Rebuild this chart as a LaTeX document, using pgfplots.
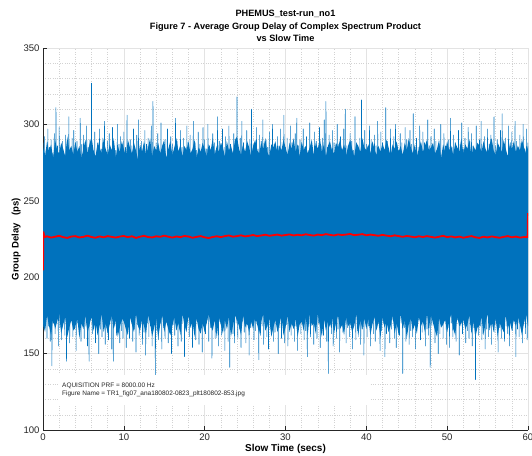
\documentclass[border=0pt]{standalone}
\usepackage{pgfplots}
\pgfplotsset{compat=1.18}
\usepgfplotslibrary{fillbetween}
\usepackage{fontspec}
\setmainfont{Liberation Sans}

\definecolor{mblue}{RGB}{0,114,189}
\definecolor{axgray}{RGB}{38,38,38}

\begin{document}
\begin{tikzpicture}
\begin{axis}[
    scale only axis,
    width=485bp, height=382bp,
    xmin=0, xmax=60, ymin=100, ymax=350,
    xtick={0,10,...,60}, ytick={100,150,...,350},
    minor x tick num=4, minor y tick num=4,
    minor tick length=0pt, major tick length=4bp,
    tick align=inside,
    axis x line*=bottom, axis y line*=left,
    axis line style={axgray, line width=0.5pt},
    tick style={axgray, line width=0.5pt},
    grid=both,
    major grid style={solid, gray!22, line width=0.5pt},
    minor grid style={dotted, gray!35, line width=0.4pt},
    /pgf/number format/assume math mode=true,
    ticklabel style={font=\fontsize{9.6}{10}\selectfont, text=axgray},
    title={PHEMUS\_test-run\_no1\\Figure 7 - Average Group Delay of Complex Spectrum Product\\vs Slow Time},
    title style={font=\bfseries\fontsize{9.2}{12.3}\selectfont, align=center, yshift=-3bp},
    xlabel={Slow Time (secs)},
    xlabel style={font=\bfseries\fontsize{10}{12}\selectfont, yshift=3bp},
    ylabel={Group Delay \ \ (ps)},
    ylabel style={font=\bfseries\fontsize{9.6}{12}\selectfont, yshift=-4bp},
]
% upper edge of the dense part of the signal
\addplot[draw=none, name path=up, forget plot] coordinates {
(0,285)(0.25,279)(0.5,289)(0.75,282)(1,287)(1.25,278)(1.5,290)(1.75,283)
(2,281)(2.25,288)(2.5,284)(2.75,279)(3,292)(3.25,283)(3.5,286)(3.75,280)
(4,289)(4.25,282)(4.5,286)(4.75,278)(5,284)(5.25,290)(5.5,281)(5.75,287)
(6,292)(6.25,283)(6.5,279)(6.75,288)(7,285)(7.25,281)(7.5,290)(7.75,284)
(8,280)(8.25,287)(8.5,283)(8.75,291)(9,278)(9.25,286)(9.5,282)(9.75,289)
(10,284)(10.25,279)(10.5,290)(10.75,285)(11,281)(11.25,288)(11.5,283)(11.75,277)
(12,287)(12.25,282)(12.5,289)(12.75,280)(13,285)(13.25,291)(13.5,279)(13.75,286)
(14,283)(14.25,288)(14.5,281)(14.75,286)(15,290)(15.25,278)(15.5,284)(15.75,289)
(16,280)(16.25,285)(16.5,291)(16.75,282)(17,287)(17.25,279)(17.5,286)(17.75,283)
(18,289)(18.25,281)(18.5,284)(18.75,290)(19,278)(19.25,285)(19.5,282)(19.75,288)
(20,284)(20.25,279)(20.5,287)(20.75,283)(21,291)(21.25,280)(21.5,286)(21.75,282)
(22,288)(22.25,285)(22.5,279)(22.75,289)(23,283)(23.25,286)(23.5,281)(23.75,290)
(24,292)(24.25,284)(24.5,280)(24.75,287)(25,282)(25.25,289)(25.5,285)(25.75,279)
(26,286)(26.25,290)(26.5,283)(26.75,281)(27,288)(27.25,284)(27.5,291)(27.75,282)
(28,279)(28.25,287)(28.5,285)(28.75,289)(29,281)(29.25,286)(29.5,283)(29.75,290)
(30,285)(30.25,280)(30.5,288)(30.75,284)(31,291)(31.25,282)(31.5,287)(31.75,279)
(32,289)(32.25,283)(32.5,286)(32.75,281)(33,285)(33.25,290)(33.5,280)(33.75,288)
(34,284)(34.25,291)(34.5,282)(34.75,287)(35,279)(35.25,286)(35.5,289)(35.75,283)
(36,281)(36.25,288)(36.5,285)(36.75,290)(37,283)(37.25,287)(37.5,280)(37.75,286)
(38,290)(38.25,284)(38.5,279)(38.75,288)(39,286)(39.25,282)(39.5,291)(39.75,285)
(40,283)(40.25,287)(40.5,281)(40.75,289)(41,284)(41.25,280)(41.5,286)(41.75,282)
(42,288)(42.25,283)(42.5,290)(42.75,285)(43,279)(43.25,287)(43.5,284)(43.75,289)
(44,282)(44.25,286)(44.5,280)(44.75,288)(45,283)(45.25,291)(45.5,285)(45.75,281)
(46,287)(46.25,279)(46.5,284)(46.75,289)(47,282)(47.25,286)(47.5,290)(47.75,283)
(48,285)(48.25,288)(48.5,281)(48.75,284)(49,290)(49.25,278)(49.5,287)(49.75,282)
(50,289)(50.25,283)(50.5,286)(50.75,280)(51,288)(51.25,285)(51.5,282)(51.75,291)
(52,281)(52.25,287)(52.5,284)(52.75,290)(53,279)(53.25,286)(53.5,283)(53.75,288)
(54,286)(54.25,282)(54.5,289)(54.75,284)(55,281)(55.25,287)(55.5,291)(55.75,283)
(56,280)(56.25,288)(56.5,285)(56.75,282)(57,290)(57.25,284)(57.5,279)(57.75,287)
(58,284)(58.25,289)(58.5,282)(58.75,286)(59,283)(59.25,290)(59.5,285)(59.75,281)
(60,286)
};
% lower edge of the dense part of the signal
\addplot[draw=none, name path=lo, forget plot] coordinates {
(0,170)(0.25,164)(0.5,175)(0.75,168)(1,162)(1.25,173)(1.5,166)(1.75,171)
(2,176)(2.25,163)(2.5,169)(2.75,174)(3,161)(3.25,167)(3.5,172)(3.75,165)
(4,168)(4.25,173)(4.5,160)(4.75,170)(5,166)(5.25,175)(5.5,163)(5.75,169)
(6,174)(6.25,165)(6.5,171)(6.75,162)(7,168)(7.25,176)(7.5,164)(7.75,170)
(8,163)(8.25,169)(8.5,175)(8.75,166)(9,172)(9.25,161)(9.5,167)(9.75,173)
(10,171)(10.25,166)(10.5,162)(10.75,174)(11,169)(11.25,164)(11.5,176)(11.75,168)
(12,165)(12.25,172)(12.5,168)(12.75,163)(13,175)(13.25,170)(13.5,161)(13.75,167)
(14,173)(14.25,160)(14.5,169)(14.75,175)(15,164)(15.25,171)(15.5,166)(15.75,162)
(16,168)(16.25,174)(16.5,165)(16.75,170)(17,162)(17.25,176)(17.5,169)(17.75,164)
(18,175)(18.25,167)(18.5,171)(18.75,161)(19,173)(19.25,166)(19.5,163)(19.75,170)
(20,164)(20.25,170)(20.5,176)(20.75,168)(21,165)(21.25,172)(21.5,160)(21.75,174)
(22,169)(22.25,163)(22.5,172)(22.75,166)(23,174)(23.25,161)(23.5,168)(23.75,175)
(24,172)(24.25,168)(24.5,162)(24.75,175)(25,167)(25.25,170)(25.5,164)(25.75,171)
(26,166)(26.25,174)(26.5,169)(26.75,163)(27,171)(27.25,176)(27.5,165)(27.75,168)
(28,173)(28.25,161)(28.5,167)(28.75,172)(29,164)(29.25,169)(29.5,175)(29.75,162)
(30,167)(30.25,175)(30.5,164)(30.75,170)(31,166)(31.25,173)(31.5,161)(31.75,169)
(32,171)(32.25,165)(32.5,174)(32.75,162)(33,176)(33.25,168)(33.5,170)(33.75,163)
(34,176)(34.25,168)(34.5,161)(34.75,173)(35,165)(35.25,171)(35.5,167)(35.75,174)
(36,163)(36.25,170)(36.5,175)(36.75,166)(37,169)(37.25,162)(37.5,174)(37.75,168)
(38,170)(38.25,164)(38.5,168)(38.75,176)(39,161)(39.25,172)(39.5,166)(39.75,173)
(40,166)(40.25,173)(40.5,162)(40.75,169)(41,174)(41.25,165)(41.5,171)(41.75,160)
(42,174)(42.25,167)(42.5,171)(42.75,164)(43,168)(43.25,175)(43.5,163)(43.75,170)
(44,162)(44.25,176)(44.5,166)(44.75,172)(45,160)(45.25,169)(45.5,173)(45.75,165)
(46,169)(46.25,163)(46.5,174)(46.75,168)(47,171)(47.25,164)(47.5,176)(47.75,167)
(48,175)(48.25,170)(48.5,165)(48.75,161)(49,173)(49.25,167)(49.5,169)(49.75,172)
(50,164)(50.25,171)(50.5,176)(50.75,166)(51,162)(51.25,174)(51.5,168)(51.75,170)
(52,172)(52.25,166)(52.5,169)(52.75,175)(53,163)(53.25,171)(53.5,161)(53.75,167)
(54,168)(54.25,174)(54.5,162)(54.75,170)(55,176)(55.25,165)(55.5,172)(55.75,164)
(56,173)(56.25,161)(56.5,170)(56.75,167)(57,164)(57.25,175)(57.5,166)(57.75,171)
(58,165)(58.25,172)(58.5,168)(58.75,174)(59,169)(59.25,162)(59.5,170)(59.75,176)
(60,168)
};
\addplot[mblue, draw=none, forget plot] fill between[of=up and lo];
% group delay, raw
\addplot[mblue, line width=0.6pt, line join=round] coordinates {
(0.0,288)(0.1,166)(0.2,292)(0.3,171)(0.4,283)(0.5,160)(0.6,297)(0.7,168)(0.8,285)(0.9,158)
(1.0,290)(1.1,142)(1.2,281)(1.3,170)(1.4,294)(1.5,163)(1.6,311)(1.7,173)(1.8,286)(1.9,155)
(2.0,298)(2.1,167)(2.2,284)(2.3,159)(2.4,289)(2.5,172)(2.6,280)(2.7,162)(2.8,293)(2.9,145)
(3.0,286)(3.1,169)(3.2,305)(3.3,157)(3.4,282)(3.5,174)(3.6,291)(3.7,161)(3.8,296)(3.9,166)
(4.0,284)(4.1,152)(4.2,289)(4.3,170)(4.4,279)(4.5,164)(4.6,304)(4.7,158)(4.8,287)(4.9,171)
(5.0,293)(5.1,160)(5.2,281)(5.3,168)(5.4,299)(5.5,155)(5.6,285)(5.7,145)(5.8,290)(5.9,172)
(6.0,327)(6.1,163)(6.2,283)(6.3,169)(6.4,295)(6.5,157)(6.6,280)(6.7,173)(6.8,288)(6.9,150)
(7.0,297)(7.1,166)(7.2,284)(7.3,161)(7.4,291)(7.5,170)(7.6,302)(7.7,156)(7.8,282)(7.9,167)
(8.0,289)(8.1,159)(8.2,294)(8.3,172)(8.4,281)(8.5,153)(8.6,298)(8.7,145)(8.8,286)(8.9,168)
(9.0,283)(9.1,162)(9.2,300)(9.3,170)(9.4,287)(9.5,157)(9.6,292)(9.7,165)(9.8,279)(9.9,160)
(10.0,295)(10.1,171)(10.2,285)(10.3,154)(10.4,306)(10.5,167)(10.6,282)(10.7,160)(10.8,290)(10.9,173)
(11.0,286)(11.1,158)(11.2,297)(11.3,166)(11.4,281)(11.5,151)(11.6,293)(11.7,169)(11.8,303)(11.9,162)
(12.0,284)(12.1,172)(12.2,289)(12.3,156)(12.4,280)(12.5,164)(12.6,296)(12.7,149)(12.8,287)(12.9,170)
(13.0,291)(13.1,161)(13.2,283)(13.3,168)(13.4,299)(13.5,155)(13.6,315)(13.7,171)(13.8,285)(13.9,136)
(14.0,288)(14.1,165)(14.2,294)(14.3,159)(14.4,281)(14.5,170)(14.6,301)(14.7,153)(14.8,286)(14.9,167)
(15.0,282)(15.1,160)(15.2,290)(15.3,173)(15.4,297)(15.5,157)(15.6,284)(15.7,164)(15.8,292)(15.9,150)
(16.0,287)(16.1,169)(16.2,280)(16.3,162)(16.4,304)(16.5,171)(16.6,289)(16.7,155)(16.8,283)(16.9,166)
(17.0,296)(17.1,158)(17.2,285)(17.3,170)(17.4,291)(17.5,148)(17.6,281)(17.7,165)(17.8,299)(17.9,172)
(18.0,286)(18.1,161)(18.2,293)(18.3,167)(18.4,280)(18.5,154)(18.6,302)(18.7,169)(18.8,288)(18.9,159)
(19.0,283)(19.1,171)(19.2,295)(19.3,156)(19.4,287)(19.5,166)(19.6,282)(19.7,151)(19.8,298)(19.9,168)
(20.0,290)(20.1,163)(20.2,284)(20.3,172)(20.4,300)(20.5,158)(20.6,286)(20.7,167)(20.8,281)(20.9,147)
(21.0,294)(21.1,170)(21.2,288)(21.3,160)(21.4,283)(21.5,165)(21.6,305)(21.7,155)(21.8,289)(21.9,171)
(22.0,280)(22.1,162)(22.2,297)(22.3,168)(22.4,285)(22.5,152)(22.6,292)(22.7,173)(22.8,284)(22.9,158)
(23.0,299)(23.1,141)(23.2,287)(23.3,169)(23.4,281)(23.5,163)(23.6,294)(23.7,157)(23.8,286)(23.9,170)
(24.0,318)(24.1,160)(24.2,283)(24.3,166)(24.4,291)(24.5,154)(24.6,302)(24.7,171)(24.8,288)(24.9,164)
(25.0,282)(25.1,157)(25.2,296)(25.3,169)(25.4,285)(25.5,149)(25.6,290)(25.7,167)(25.8,310)(25.9,172)
(26.0,287)(26.1,159)(26.2,281)(26.3,165)(26.4,298)(26.5,170)(26.6,284)(26.7,146)(26.8,293)(26.9,162)
(27.0,289)(27.1,168)(27.2,303)(27.3,156)(27.4,282)(27.5,172)(27.6,290)(27.7,161)(27.8,285)(27.9,153)
(28.0,295)(28.1,166)(28.2,283)(28.3,170)(28.4,300)(28.5,158)(28.6,287)(28.7,164)(28.8,280)(28.9,171)
(29.0,292)(29.1,150)(29.2,286)(29.3,167)(29.4,297)(29.5,160)(29.6,284)(29.7,173)(29.8,306)(29.9,157)
(30.0,285)(30.1,169)(30.2,291)(30.3,155)(30.4,282)(30.5,166)(30.6,299)(30.7,162)(30.8,288)(30.9,171)
(31.0,283)(31.1,158)(31.2,294)(31.3,168)(31.4,304)(31.5,152)(31.6,286)(31.7,170)(31.8,290)(31.9,163)
(32.0,281)(32.1,172)(32.2,297)(32.3,159)(32.4,285)(32.5,165)(32.6,292)(32.7,148)(32.8,283)(32.9,168)
(33.0,301)(33.1,161)(33.2,287)(33.3,171)(33.4,280)(33.5,156)(33.6,295)(33.7,166)(33.8,289)(33.9,160)
(34.0,284)(34.1,170)(34.2,298)(34.3,154)(34.4,286)(34.5,167)(34.6,291)(34.7,162)(34.8,303)(34.9,172)
(35.0,315)(35.1,158)(35.2,285)(35.3,137)(35.4,293)(35.5,169)(35.6,282)(35.7,163)(35.8,296)(35.9,155)
(36.0,288)(36.1,171)(36.2,281)(36.3,160)(36.4,300)(36.5,166)(36.6,287)(36.7,151)(36.8,292)(36.9,168)
(37.0,284)(37.1,164)(37.2,297)(37.3,172)(37.4,310)(37.5,157)(37.6,286)(37.7,167)(37.8,280)(37.9,161)
(38.0,294)(38.1,169)(38.2,289)(38.3,153)(38.4,283)(38.5,170)(38.6,305)(38.7,159)(38.8,288)(38.9,165)
(39.0,282)(39.1,172)(39.2,291)(39.3,156)(39.4,316)(39.5,166)(39.6,285)(39.7,149)(39.8,296)(39.9,170)
(40.0,287)(40.1,161)(40.2,280)(40.3,168)(40.4,299)(40.5,155)(40.6,290)(40.7,171)(40.8,284)(40.9,163)
(41.0,293)(41.1,158)(41.2,286)(41.3,167)(41.4,302)(41.5,172)(41.6,282)(41.7,152)(41.8,295)(41.9,165)
(42.0,288)(42.1,170)(42.2,283)(42.3,148)(42.4,311)(42.5,163)(42.6,289)(42.7,169)(42.8,281)(42.9,157)
(43.0,297)(43.1,166)(43.2,285)(43.3,172)(43.4,292)(43.5,160)(43.6,300)(43.7,154)(43.8,286)(43.9,168)
(44.0,283)(44.1,162)(44.2,294)(44.3,170)(44.4,288)(44.5,137)(44.6,281)(44.7,167)(44.8,298)(44.9,158)
(45.0,290)(45.1,171)(45.2,284)(45.3,156)(45.4,296)(45.5,165)(45.6,287)(45.7,161)(45.8,307)(45.9,169)
(46.0,282)(46.1,153)(46.2,291)(46.3,168)(46.4,285)(46.5,172)(46.6,299)(46.7,159)(46.8,283)(46.9,164)
(47.0,295)(47.1,170)(47.2,288)(47.3,155)(47.4,281)(47.5,166)(47.6,303)(47.7,162)(47.8,286)(47.9,141)
(48.0,292)(48.1,168)(48.2,284)(48.3,171)(48.4,297)(48.5,157)(48.6,289)(48.7,165)(48.8,280)(48.9,150)
(49.0,287)(49.1,163)(49.2,300)(49.3,169)(49.4,283)(49.5,160)(49.6,294)(49.7,172)(49.8,286)(49.9,156)
(50.0,281)(50.1,167)(50.2,290)(50.3,154)(50.4,304)(50.5,170)(50.6,285)(50.7,161)(50.8,293)(50.9,166)
(51.0,288)(51.1,158)(51.2,282)(51.3,172)(51.4,296)(51.5,149)(51.6,287)(51.7,168)(51.8,301)(51.9,163)
(52.0,284)(52.1,171)(52.2,291)(52.3,157)(52.4,280)(52.5,165)(52.6,298)(52.7,160)(52.8,289)(52.9,169)
(53.0,294)(53.1,155)(53.2,286)(53.3,167)(53.4,283)(53.5,133)(53.6,299)(53.7,170)(53.8,285)(53.9,162)
(54.0,290)(54.1,168)(54.2,302)(54.3,159)(54.4,284)(54.5,171)(54.6,292)(54.7,153)(54.8,281)(54.9,166)
(55.0,297)(55.1,161)(55.2,287)(55.3,169)(55.4,293)(55.5,156)(55.6,282)(55.7,172)(55.8,305)(55.9,164)
(56.0,286)(56.1,170)(56.2,290)(56.3,151)(56.4,283)(56.5,167)(56.6,296)(56.7,160)(56.8,307)(56.9,171)
(57.0,284)(57.1,158)(57.2,291)(57.3,168)(57.4,280)(57.5,163)(57.6,299)(57.7,155)(57.8,288)(57.9,170)
(58.0,295)(58.1,165)(58.2,285)(58.3,172)(58.4,302)(58.5,148)(58.6,289)(58.7,166)(58.8,282)(58.9,161)
(59.0,293)(59.1,169)(59.2,286)(59.3,157)(59.4,300)(59.5,171)(59.6,284)(59.7,163)(59.8,297)(59.9,159)
(60.0,288)
};
% group delay, averaged
\addplot[red, line width=1.8pt, line join=round] coordinates {
(0,204.5)(0.05,229.5)(0.2,226.2)
(0.5,226.8)(1,225.9)(1.5,226.5)(2,227.1)(2.5,226.2)(3,225.7)(3.5,226.6)(4,226.9)(4.5,226.0)(5,226.4)
(5.5,227.2)(6,226.3)(6.5,225.8)(7,226.7)(7.5,226.1)(8,226.9)(8.5,226.4)(9,225.9)(9.5,226.6)(10,227.0)
(10.5,226.2)(11,226.8)(11.5,225.7)(12,226.5)(12.5,227.1)(13,226.3)(13.5,226.0)(14,226.8)(14.5,226.4)(15,227.2)
(15.5,226.5)(16,225.9)(16.5,226.7)(17,226.2)(17.5,227.0)(18,226.6)(18.5,225.8)(19,226.4)(19.5,226.9)(20,226.1)
(20.5,225.6)(21,226.3)(21.5,226.8)(22,226.2)(22.5,226.9)(23,227.3)(23.5,226.5)(24,226.9)(24.5,227.4)(25,226.7)
(25.5,227.1)(26,227.6)(26.5,226.9)(27,227.3)(27.5,227.8)(28,227.1)(28.5,227.5)(29,227.9)(29.5,227.2)(30,227.6)
(30.5,228.0)(31,227.3)(31.5,227.8)(32,227.4)(32.5,228.1)(33,227.6)(33.5,227.2)(34,227.9)(34.5,227.5)(35,228.2)
(35.5,227.7)(36,227.3)(36.5,228.0)(37,227.6)(37.5,227.9)(38,228.3)(38.5,227.5)(39,227.8)(39.5,228.2)(40,227.4)
(40.5,227.9)(41,227.5)(41.5,227.1)(42,227.7)(42.5,227.2)(43,226.8)(43.5,227.4)(44,226.9)(44.5,226.4)(45,227.0)
(45.5,226.6)(46,226.1)(46.5,226.8)(47,226.3)(47.5,226.9)(48,226.4)(48.5,225.9)(49,226.5)(49.5,227.1)(50,226.2)
(50.5,226.7)(51,226.0)(51.5,226.6)(52,225.8)(52.5,226.4)(53,226.9)(53.5,226.1)(54,225.7)(54.5,226.5)(55,226.0)
(55.5,226.7)(56,226.2)(56.5,225.8)(57,226.4)(57.5,226.9)(58,226.1)(58.5,226.6)(59,225.9)(59.5,226.3)(59.95,226.2)
(60,242)
};
\fill[white] (axis cs:1.9,135.8) rectangle (axis cs:40.5,116.2);
\node[anchor=west, align=left, inner sep=0pt, text=axgray,
      font=\fontsize{6.5}{8.3}\selectfont] at (axis cs:2.35,126)
  {AQUISITION PRF = 8000.00 Hz\\Figure Name = TR1\_fig07\_ana180802-0823\_plt180802-853.jpg};
\end{axis}
\pgfresetboundingbox
\useasboundingbox (-43bp,-26bp) rectangle (489bp,430bp);
\end{tikzpicture}
\end{document}
